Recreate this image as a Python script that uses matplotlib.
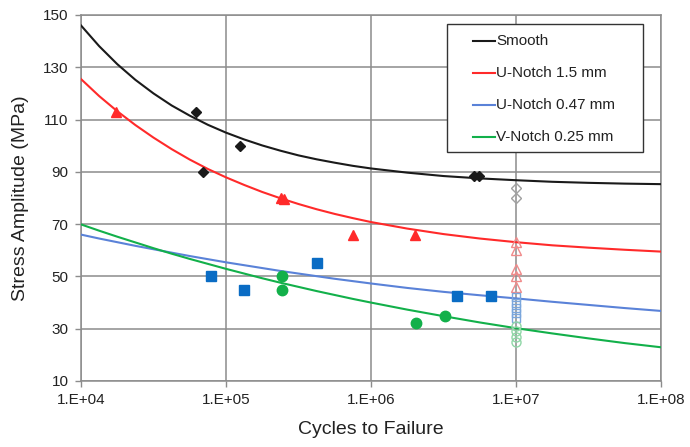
import matplotlib
matplotlib.use("Agg")
import matplotlib.pyplot as plt
from matplotlib.patches import Rectangle
import numpy as np

plt.rcParams["font.family"] = ["Liberation Sans", "DejaVu Sans"]

# ── Data ────────────────────────────────────────────────────
# fitted curves: eighth-decade samples up to 1e6, quarter-decade after
CURVE_LOGN = [4.0, 4.125, 4.25, 4.375, 4.5, 4.625, 4.75, 4.875, 5.0,
              5.125, 5.25, 5.375, 5.5, 5.625, 5.75, 5.875, 6.0,
              6.25, 6.5, 6.75, 7.0, 7.25, 7.5, 7.75, 8.0]
SMOOTH_FIT = [146.0, 138.1, 131.2, 125.2, 120.0, 115.4, 111.5, 108.0, 105.0,
              102.4, 100.1, 98.1, 96.3, 94.8, 93.5, 92.3, 91.3,
              89.7, 88.4, 87.5, 86.8, 86.2, 85.8, 85.5, 85.3]
U15_FIT = [125.5, 119.0, 113.2, 107.9, 103.1, 98.7, 94.7, 91.1, 87.9,
           85.0, 82.3, 79.9, 77.7, 75.7, 73.9, 72.3, 70.8,
           68.3, 66.2, 64.5, 63.1, 61.9, 61.0, 60.2, 59.5]
U047_FIT = [66.0, 64.5, 63.1, 61.7, 60.4, 59.1, 57.8, 56.6, 55.4,
            54.3, 53.2, 52.1, 51.1, 50.1, 49.1, 48.2, 47.3,
            45.6, 44.1, 42.8, 41.6, 40.3, 39.1, 37.9, 36.8]
V025_FIT = [69.9, 67.5, 65.2, 63.0, 60.8, 58.7, 56.7, 54.8, 52.9,
            51.1, 49.3, 47.6, 46.0, 44.4, 42.9, 41.4, 40.0,
            37.3, 34.8, 32.4, 30.2, 28.2, 26.3, 24.5, 22.9]

# failures
SMOOTH_N = [6.2e4, 6.9e4, 1.25e5, 5.1e6, 5.6e6]
SMOOTH_S = [113, 90, 100, 88.3, 88.3]
U15_N = [1.75e4, 2.4e5, 2.5e5, 7.5e5, 2.0e6]
U15_S = [113, 80, 79.5, 66, 66]
U047_N = [7.9e4, 1.33e5, 4.25e5, 3.9e6, 6.7e6]
U047_S = [50, 45, 55, 42.5, 42.5]
V025_N = [2.45e5, 2.45e5, 2.05e6, 3.25e6]
V025_S = [50, 45, 32, 35]

# run-outs at 1e7
RUNOUT_N = 1e7
SMOOTH_RUN = [84, 80]
U15_RUN = [63, 60, 53, 50, 46]
U047_RUN = [42, 40, 38, 36, 34]
V025_RUN = [31, 29, 27, 25]

LABELS = ["Smooth", "U-Notch 1.5 mm", "U-Notch 0.47 mm", "V-Notch 0.25 mm"]
YTICKS = [10, 30, 50, 70, 90, 110, 130, 150]
XTICKS = [1e4, 1e5, 1e6, 1e7, 1e8]
XLABELS = ["1.E+04", "1.E+05", "1.E+06", "1.E+07", "1.E+08"]

# ── Colours ─────────────────────────────────────────────────
BLACK = "#1a1a1a"
RED = "#ff2a2a"
BLUE_LINE = "#5a82d8"
BLUE_MK = "#0a6cc4"
GREEN = "#12b04a"
GRID = "#8c8c8c"
TEXT = "#222222"

fig = plt.figure(figsize=(6.9, 4.47), dpi=100)
ax = fig.add_axes([81 / 690, 1 - 381 / 447, 580 / 690, 366 / 447])

curve_n = 10 ** np.array(CURVE_LOGN)
fits = [SMOOTH_FIT, U15_FIT, U047_FIT, V025_FIT]
line_colors = [BLACK, RED, BLUE_LINE, GREEN]
for fit, c in zip(fits, line_colors):
    ax.plot(curve_n, fit, color=c, lw=1.5, zorder=3)

# filled markers
ax.plot(SMOOTH_N, SMOOTH_S, "D", color=BLACK, ms=5.5, ls="none", zorder=4)
ax.plot(U15_N, U15_S, "^", color=RED, ms=7.5, ls="none", zorder=4)
ax.plot(U047_N, U047_S, "s", color=BLUE_MK, ms=7, ls="none", zorder=4)
ax.plot(V025_N, V025_S, "o", color=GREEN, ms=7.5, ls="none", zorder=4)

# hollow run-out markers
ax.plot([RUNOUT_N] * len(SMOOTH_RUN), SMOOTH_RUN, "D", mfc="none", mec="#a0a0a0",
        ms=5.5, ls="none", zorder=4)
ax.plot([RUNOUT_N] * len(U15_RUN), U15_RUN, "^", mfc="none", mec="#f08a8a",
        ms=7.5, ls="none", zorder=4)
ax.plot([RUNOUT_N] * len(U047_RUN), U047_RUN, "s", mfc="none", mec="#7aa6dc",
        ms=6, ls="none", zorder=4)
ax.plot([RUNOUT_N] * len(V025_RUN), V025_RUN, "o", mfc="none", mec="#8fd6a6",
        ms=6.5, ls="none", zorder=4)

ax.set_xscale("log")
ax.set_xlim(1e4, 1e8)
ax.set_ylim(10, 150)
ax.set_xticks(XTICKS)
ax.set_xticklabels(XLABELS)
ax.minorticks_off()
ax.set_yticks(YTICKS)
ax.grid(True, color=GRID, lw=1.1)
ax.set_axisbelow(True)
for sp in ax.spines.values():
    sp.set_color(GRID)
    sp.set_linewidth(1.1)
ax.tick_params(axis="both", direction="out", length=4, width=1, color=GRID,
               labelsize=11, labelcolor=TEXT, pad=5)

ax.set_xlabel("Cycles to Failure", fontsize=14, color=TEXT, labelpad=10)
ax.set_ylabel("Stress Amplitude (MPa)", fontsize=14, color=TEXT, labelpad=10)

# ── Legend box (drawn by hand to get the wide side padding) ─
def px(x, y):
    """pixel position in the 690x447 image -> axes fraction"""
    return (x - 81) / 580, (381 - y) / 366

x0, y0 = px(447, 152)
x1, y1 = px(643, 24)
ax.add_patch(Rectangle((x0, y0), x1 - x0, y1 - y0, transform=ax.transAxes,
                       facecolor="white", edgecolor="#333333", lw=1.0, zorder=6))
for i, (lab, c) in enumerate(zip(LABELS, line_colors)):
    ly = 41 + i * 32
    (lx0, lyy), (lx1, _) = px(473, ly), px(495, ly)
    ax.plot([lx0, lx1], [lyy, lyy], color=c, lw=1.5, transform=ax.transAxes,
            zorder=7, clip_on=False)
    tx, _ = px(496, ly)
    ax.text(tx, lyy, lab, transform=ax.transAxes, fontsize=11, color=TEXT,
            ha="left", va="center", zorder=7)

fig.savefig("out.png", dpi=100)
